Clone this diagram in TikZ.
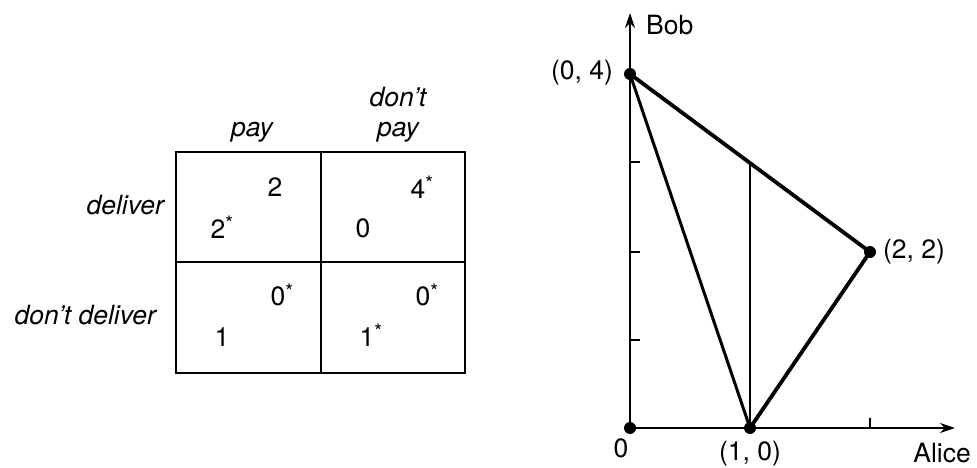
\documentclass[tikz,border=0pt]{standalone}
\usepackage{fontspec}
\setmainfont{TeX Gyre Heros}
\usetikzlibrary{arrows.meta}
\tikzset{
  lbl/.style={inner sep=0pt, font=\fontsize{26.5}{30}\selectfont},
  ilbl/.style={inner sep=0pt, font=\fontsize{26.5}{30}\selectfont\itshape},
  dot/.style={circle, fill=black, inner sep=0pt, minimum size=12pt},
  grid line/.style={line width=2.2pt},
  axis/.style={line width=2pt, -{Stealth[length=15pt,width=10pt]}},
  edge thick/.style={line width=3.8pt},
  edge mid/.style={line width=3pt},
  edge thin/.style={line width=1.6pt},
  tick/.style={line width=1.5pt}
}
\newcommand{\st}{\raisebox{0.28em}{\fontsize{20}{20}\selectfont *}}
\begin{document}
\begin{tikzpicture}[x=1pt,y=-1pt]
\useasboundingbox (0,0) rectangle (977,468);
% payoff table
\draw[grid line] (176,152) rectangle (465,373);
\draw[grid line] (321,152) -- (321,373);
\draw[grid line] (176,262) -- (465,262);
\node[ilbl] (cpay) at (252,132) {pay};
\node[ilbl, align=center] (cdpay) at (398,115) {don't\\pay};
\node[ilbl, anchor=east] (rdel) at (164,205) {deliver};
\node[ilbl, anchor=east] (rddel) at (156,315) {don't deliver};
\node[lbl] (a1) at (275,187) {2};
\node[lbl] (a2) at (222,227) {2\st};
\node[lbl] (b1) at (422,187) {4\st};
\node[lbl] (b2) at (363,228) {0};
\node[lbl] (c1) at (282,295) {0\st};
\node[lbl] (c2) at (222,337) {1};
\node[lbl] (d1) at (427,295) {0\st};
\node[lbl] (d2) at (371,335) {1\st};
% graph
\coordinate (xend) at (955,428);
\coordinate (yend) at (630,13);
\node[dot] (O) at (630,428) {};
\node[dot] (P10) at (750,428) {};
\node[dot] (P22) at (870,252) {};
\node[dot] (P04) at (630,74) {};
\coordinate (P13) at (750,164);
\draw[axis] (O) -- (xend);
\draw[axis] (O) -- (yend);
\foreach \yy in {162,252,340} \draw[tick] (630,\yy) -- (640,\yy);
\draw[tick] (870,428) -- (870,418);
\draw[edge thick] (P04.center) -- (P22.center) -- (P10.center);
\draw[edge mid] (P04.center) -- (P10.center);
\draw[edge thin] (P10.center) -- (P13);
\node[lbl, anchor=west] (bob) at (646,25) {Bob};
\node[lbl, anchor=east] (alice) at (971,453) {Alice};
\node[lbl] (zero) at (621,448) {0};
\node[lbl] (l10) at (750,454) {(1, 0)};
\node[lbl] (l04) at (582,73) {(0, 4)};
\node[lbl] (l22) at (914,252) {(2, 2)};
\end{tikzpicture}
\end{document}
